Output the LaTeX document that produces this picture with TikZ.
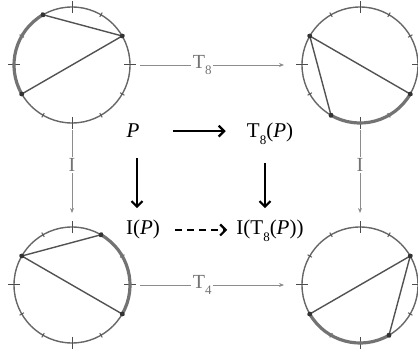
\documentclass[tikz,border=0pt]{standalone}
\usepackage{fontspec}
\setmainfont{Liberation Serif}
\usetikzlibrary{arrows.meta}
\newcommand\sbs[1]{\raisebox{-0.3em}{\fontsize{13}{13}\selectfont #1}}
\newcommand\clockfig[6]{%
  \node[clk] (#1) at (#2,#3) {};
  \foreach \a in {0,90,180,270}
    \draw[black!70,line width=1pt] (#1.center) ++(\a:52) -- ++(\a:12);
  \foreach \a in {30,60,120,150,210,240,300,330}
    \draw[black!65,line width=1pt] (#1.center) ++(\a:55.5) -- ++(\a:5);
  \path (#1.center) ++(#4:58) coordinate (#1-c)
        (#1.center) ++(#5:58) coordinate (#1-s)
        (#1.center) ++(#6:58) coordinate (#1-e);
  \draw[thk] (#1-s) arc[start angle=#5,end angle=#6,radius=58];
  \draw[chord] (#1-s) -- (#1-c) -- (#1-e);
  \fill[black!80] (#1-c) circle (2.4pt) (#1-s) circle (2.4pt) (#1-e) circle (2.4pt);
}
\begin{document}
\begin{tikzpicture}[x=1pt,y=1pt,
  clk/.style={circle,draw=black!60,line width=1.4pt,minimum size=116pt,inner sep=0pt,outer sep=0pt},
  chord/.style={draw=black!68,line width=1.4pt},
  thk/.style={draw=black!55,line width=3.2pt},
  gar/.style={draw=black!45,line width=0.9pt,-{Stealth[length=5pt,width=4pt]}},
  glab/.style={fill=white,text=black!55,inner sep=1.5pt,font=\fontsize{20}{22}\selectfont},
  lab/.style={font=\fontsize{21}{23}\selectfont,inner sep=1pt,anchor=base},
  bar/.style={line width=2.2pt,-{Straight Barb[length=5.5pt,width=11pt]}}
]
\useasboundingbox (0,0) rectangle (418,351);

\clockfig{tl}{72}{286}{30}{210}{120}
\clockfig{tr}{360}{286}{150}{330}{240}
\clockfig{bl}{72}{66}{150}{60}{-30}
\clockfig{br}{360}{66}{30}{-60}{-150}

\draw[gar,shorten <=10pt,shorten >=18pt] (tl) -- node[glab,pos=0.42]{T\sbs{8}} (tr);
\draw[gar,shorten <=10pt,shorten >=18pt] (bl) -- node[glab,pos=0.42]{T\sbs{4}} (br);
\draw[gar,shorten <=7pt,shorten >=14pt] (tl) -- node[glab,pos=0.40]{I} (bl);
\draw[gar,shorten <=7pt,shorten >=14pt] (tr) -- node[glab,pos=0.40]{I} (br);

\node[lab] (P) at (133,213) {\textit{P}};
\node[lab] (TP) at (270,213) {T\sbs{8}(\textit{P})};
\node[lab] (IP) at (143,116) {I(\textit{P})};
\node[lab] (ITP) at (270,116) {I(T\sbs{8}(\textit{P}))};

\draw[bar,shorten <=32pt,shorten >=20pt] (P.east) -- (P.east -| TP.west);
\draw[bar,shorten <=19pt,shorten >=11pt] ([xshift=4pt]P.south) -- ([xshift=4pt]P.south |- IP.north);
\draw[bar,shorten <=17pt,shorten >=11pt] ([xshift=-5pt]TP.south) -- ([xshift=-5pt]TP.south |- ITP.north);
\draw[bar,dash pattern=on 7pt off 5pt,shorten <=14pt,shorten >=8pt] (IP.east) -- (IP.east -| ITP.west);
\end{tikzpicture}
\end{document}
